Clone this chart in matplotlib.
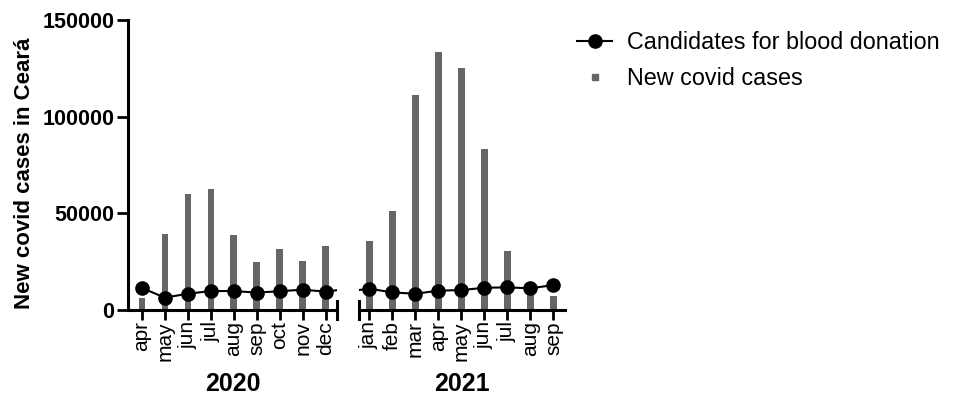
import numpy as np
from matplotlib import pyplot as plt
from matplotlib.lines import Line2D

plt.rcParams['font.family'] = ['Liberation Sans', 'DejaVu Sans']

months_2020 = ['apr', 'may', 'jun', 'jul', 'aug', 'sep', 'oct', 'nov', 'dec']
cases_2020 = [6000, 39300, 60000, 62400, 38600, 24700, 31400, 25300, 32900]
donors_2020 = [11400, 6400, 8400, 9800, 9800, 9000, 9700, 10500, 9500]

months_2021 = ['jan', 'feb', 'mar', 'apr', 'may', 'jun', 'jul', 'aug', 'sep']
cases_2021 = [35800, 51000, 111400, 133300, 125200, 83400, 30700, 11000, 7200]
donors_2021 = [11000, 9100, 8400, 10000, 10300, 11500, 11700, 11200, 12900]

bar_color = '#666666'
x20 = np.arange(len(months_2020))
x21 = np.arange(len(months_2021)) + len(months_2020)
x_all = np.concatenate([x20, x21])
donors_all = donors_2020 + donors_2021

fig = plt.figure(figsize=(9.54, 4.05), dpi=100)
ax1 = fig.add_axes([0.1342, 0.2346, 0.2191, 0.716])
ax2 = fig.add_axes([0.3763, 0.2346, 0.2159, 0.716])

for ax, x, cases, months in [(ax1, x20, cases_2020, months_2020),
                             (ax2, x21, cases_2021, months_2021)]:
    ax.bar(x, cases, width=0.28, color=bar_color, zorder=2)
    ax.plot(x_all, donors_all, color='black', lw=1.5, marker='o', ms=9.5, zorder=3)
    ax.set_ylim(0, 150000)
    ax.set_xticks(x)
    ax.set_xticklabels(months, rotation=90, fontsize=15)
    ax.tick_params(axis='x', length=7, width=2, pad=1)
    for s in ['top', 'right']:
        ax.spines[s].set_visible(False)
    ax.spines['bottom'].set_linewidth(2.2)

ax1.set_xlim(-0.6, 8.5)
ax2.set_xlim(8.55, 17.5)

ax1.spines['left'].set_linewidth(2.2)
ax1.set_yticks([0, 50000, 100000, 150000])
ax1.set_yticklabels(['0', '50000', '100000', '150000'], fontsize=15.5, fontweight='bold')
ax1.tick_params(axis='y', length=8, width=2, pad=2)
ax1.set_ylabel('New covid cases in Ceará', fontsize=16, fontweight='bold')
ax1.yaxis.set_label_coords(-0.445, 0.47)

ax2.spines['left'].set_visible(False)
ax2.set_yticks([])

# end caps of the broken x axis
ax1.plot([1, 1], [-0.03, 0.03], transform=ax1.transAxes, color='black', lw=2.2, clip_on=False)
ax2.plot([0, 0], [-0.03, 0.03], transform=ax2.transAxes, color='black', lw=2.2, clip_on=False)

ax1.set_xlabel('2020', fontsize=18, fontweight='bold', labelpad=8)
ax2.set_xlabel('2021', fontsize=18, fontweight='bold', labelpad=8)

handles = [
    Line2D([], [], color='black', lw=1.5, marker='o', ms=9.5),
    Line2D([], [], color=bar_color, ls='none', marker='s', ms=5),
]
fig.legend(handles, ['Candidates for blood donation', 'New covid cases'],
           loc='upper left', bbox_to_anchor=(0.583, 0.975), frameon=False,
           fontsize=16.8, handlelength=1.5, handletextpad=0.65, labelspacing=0.55)

fig.savefig('out.png', dpi=100)
